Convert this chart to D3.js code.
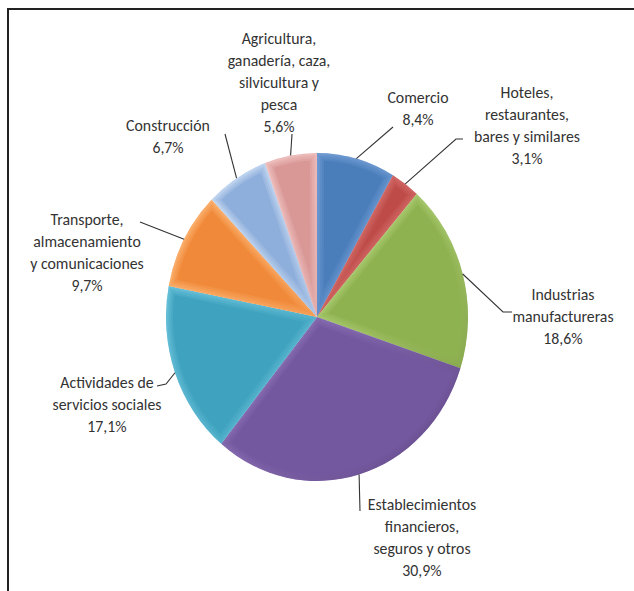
<!DOCTYPE html>
<html>
<head>
<meta charset="utf-8">
<script src="https://cdn.jsdelivr.net/npm/d3@7"></script>
<style>
  html, body { margin: 0; padding: 0; background: #fff; }
  svg { display: block; }
</style>
</head>
<body>
<svg id="chart" width="634" height="591"></svg>
<script>
// ---- data ----
const categories = [
  "Comercio",
  "Hoteles, restaurantes, bares y similares",
  "Industrias manufactureras",
  "Establecimientos financieros, seguros y otros",
  "Actividades de servicios sociales",
  "Transporte, almacenamiento y comunicaciones",
  "Construcción",
  "Agricultura, ganadería, caza, silvicultura y pesca"
];
const values = [8.4, 3.1, 18.6, 30.9, 17.1, 9.7, 6.7, 5.6];
const valueLabels = ["8,4%", "3,1%", "18,6%", "30,9%", "17,1%", "9,7%", "6,7%", "5,6%"];
const labelLines = [
  ["Comercio"],
  ["Hoteles,", "restaurantes,", "bares y similares"],
  ["Industrias", "manufactureras"],
  ["Establecimientos", "financieros,", "seguros y otros"],
  ["Actividades de", "servicios sociales"],
  ["Transporte,", "almacenamiento", "y comunicaciones"],
  ["Construcción"],
  ["Agricultura,", "ganadería, caza,", "silvicultura y", "pesca"]
];
const colors = ["#4a7ebb", "#be4b48", "#8fb250", "#73579f", "#3fa2be", "#f08a3a", "#8eaedb", "#d99896"];
const rimColors = ["#86ace0", "#e48683", "#c8e696", "#a48ccc", "#7ccfe6", "#ffbd80", "#d6e6f8", "#f8d2d1"];

// ---- layout (label anchors & leader elbows) ----
const labelPos = [
  {x: 418, y: 97},
  {x: 527, y: 92},
  {x: 563, y: 294},
  {x: 422, y: 504},
  {x: 107, y: 382},
  {x: 87,  y: 219},
  {x: 168, y: 125},
  {x: 279, y: 38}
];
const leaderEnds = [
  [[393, 127]],
  [[463, 139], [456, 139]],
  [[512, 312], [503, 312]],
  [[360, 511]],
  [[157, 386], [166, 384]],
  [[140, 222]],
  [[225, 134]],
  [[292, 134]]
];

const cx = 317, cy = 317, rx = 151, ry = 164;
const svg = d3.select("#chart");

// frame
svg.append("line").attr("x1", 8).attr("y1", 9).attr("x2", 634).attr("y2", 9)
  .attr("stroke", "#222").attr("stroke-width", 2);
svg.append("line").attr("x1", 8).attr("y1", 8).attr("x2", 8).attr("y2", 591)
  .attr("stroke", "#222").attr("stroke-width", 2);

const pie = d3.pie().sort(null).value(d => d);
const arcs = pie(values);
const arc = d3.arc().innerRadius(0).outerRadius(rx);

const defs = svg.append("defs");
const g = svg.append("g").attr("transform", `translate(${cx},${cy}) scale(1,${ry / rx})`);

arcs.forEach((a, i) => {
  const id = "clip" + i;
  defs.append("clipPath").attr("id", id).append("path").attr("d", arc(a));
  const gr = defs.append("linearGradient").attr("id", "rim" + i)
    .attr("gradientUnits", "userSpaceOnUse")
    .attr("x1", -rx * 0.8).attr("y1", -rx * 0.8).attr("x2", rx * 0.8).attr("y2", rx * 0.8);
  gr.append("stop").attr("offset", 0).attr("stop-color", rimColors[i]);
  gr.append("stop").attr("offset", 0.6).attr("stop-color", d3.interpolateRgb(rimColors[i], colors[i])(0.6));
  gr.append("stop").attr("offset", 1).attr("stop-color", d3.color(colors[i]).darker(0.4));

  const sg = g.append("g").attr("clip-path", `url(#${id})`);
  sg.append("path").attr("d", arc(a)).attr("fill", colors[i]);
  [[14, 0.22], [10, 0.25], [6, 0.3], [3, 0.35]].forEach(([w, o]) => {
    sg.append("path").attr("d", arc(a)).attr("fill", "none")
      .attr("stroke", `url(#rim${i})`).attr("stroke-width", w)
      .attr("stroke-opacity", o).attr("stroke-linejoin", "round");
  });
});

// leader lines
arcs.forEach((a, i) => {
  const ang = (a.startAngle + a.endAngle) / 2;
  const px = cx + rx * Math.sin(ang), py = cy - ry * Math.cos(ang);
  const pts = leaderEnds[i].concat([[px, py]]);
  svg.append("path")
    .attr("d", d3.line()(pts))
    .attr("fill", "none").attr("stroke", "#333").attr("stroke-width", 1.1);
});

// labels
const lh = 22;
arcs.forEach((a, i) => {
  const lines = labelLines[i].concat([valueLabels[i]]);
  const t = svg.append("text")
    .attr("text-anchor", "middle")
    .attr("font-family", "Carlito, Calibri, Lato, 'Open Sans', sans-serif")
    .attr("font-size", 15.8)
    .attr("fill", "#333");
  lines.forEach((l, j) => {
    t.append("tspan").attr("x", labelPos[i].x).attr("y", labelPos[i].y + j * lh)
      .attr("dy", "0.35em").text(l);
  });
});
</script>
</body>
</html>
